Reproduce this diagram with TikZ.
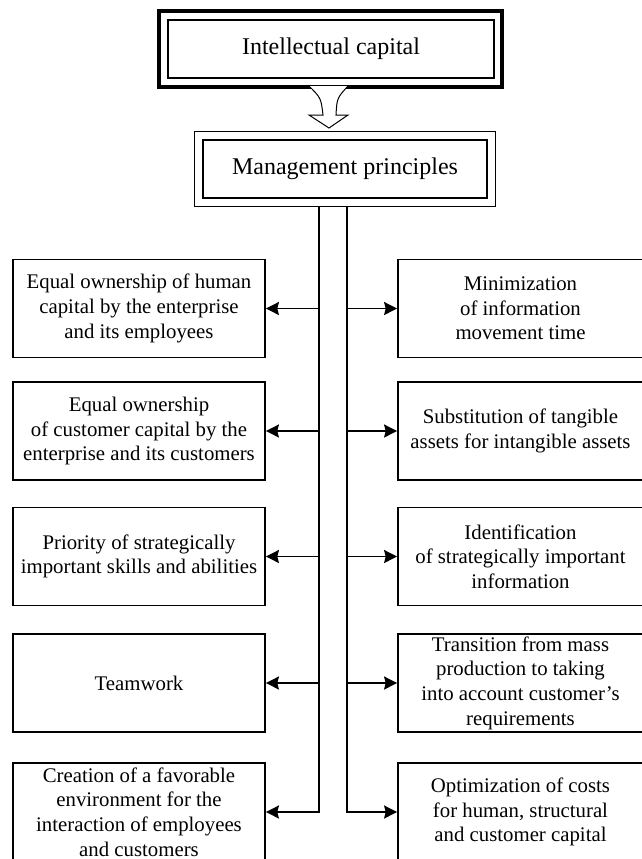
\documentclass[tikz,border=0pt]{standalone}
\usepackage{fontspec}
\setmainfont{Liberation Serif}
\usetikzlibrary{arrows.meta}
\begin{document}
\begin{tikzpicture}[
    x=0.5pt, y=-0.5pt,
    titlebox/.style={rectangle, draw=black, line width=0.6pt, minimum width=163pt, minimum height=29pt, inner sep=0pt, align=center, font=\fontsize{12}{14}\selectfont},
    leftbox/.style={rectangle, draw=black, line width=0.9pt, minimum width=126pt, minimum height=49pt, inner sep=0pt, align=center, font=\fontsize{10.4}{12.3}\selectfont},
    rightbox/.style={leftbox, minimum width=122.5pt},
    arrow/.style={-{Stealth[length=6.5pt, width=6.5pt, inset=0.8pt]}, line width=0.9pt, black}
]
\useasboundingbox (0,0) rectangle (642,859);

% top of the scheme
\node[titlebox] (ic) at (331,49) {Intellectual capital};
\draw[line width=2pt] ([shift={(-8,-8)}]ic.north west) rectangle ([shift={(7,8)}]ic.south east);
\node[titlebox, minimum width=142pt] (mp) at (345,169) {Management principles};
\draw[line width=0.8pt] ([shift={(-8,-8)}]mp.north west) rectangle ([shift={(8,8)}]mp.south east);

% hollow arrow between the two
\draw[line width=0.5pt, fill=white] (309,86) .. controls (321,98) .. (323,115) -- (309,115) -- (329,128)
    -- (348,115) -- (336,115) .. controls (337,98) .. (348,86);

% left column
\node[leftbox] (l1) at (139,308.5) {Equal ownership of human\\capital by the enterprise\\and its employees};
\node[leftbox] (l2) at (139,431) {Equal ownership\\of customer capital by the\\enterprise and its customers};
\node[leftbox] (l3) at (139,556.5) {Priority of strategically\\important skills and abilities};
\node[leftbox] (l4) at (139,683) {Teamwork};
\node[leftbox] (l5) at (139,812) {Creation of a favorable\\environment for the\\interaction of employees\\and customers};

% right column
\node[rightbox] (r1) at (520.5,308.5) {Minimization\\of information\\movement time};
\node[rightbox] (r2) at (520.5,431) {Substitution of tangible\\assets for intangible assets};
\node[rightbox] (r3) at (520.5,556.5) {Identification\\of strategically important\\information};
\node[rightbox] (r4) at (520.5,683) {Transition from mass\\production to taking\\into account customer’s\\requirements};
\node[rightbox] (r5) at (520.5,812) {Optimization of costs\\for human, structural\\and customer capital};

% spines
\coordinate (spL) at (319,206);
\coordinate (spR) at (347,206);
\draw[arrow] (spL) |- (l5.east);
\draw[arrow] (spR) |- (r5.west);
\foreach \i in {1,2,3,4} {
    \draw[arrow] (spL |- l\i.east) -- (l\i.east);
    \draw[arrow] (spR |- r\i.west) -- (r\i.west);
}
\end{tikzpicture}
\end{document}
